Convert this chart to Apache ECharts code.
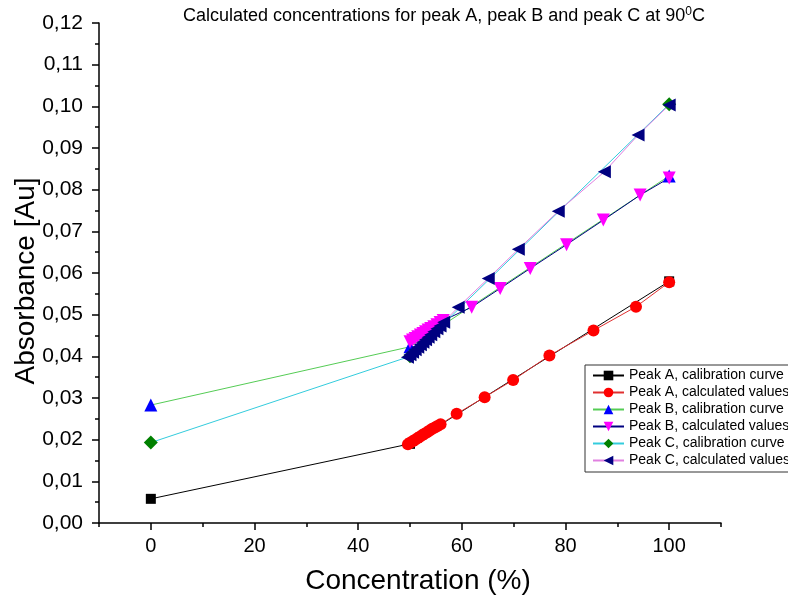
<!DOCTYPE html>
<html>
<head>
<meta charset="utf-8">
<script src="https://cdn.jsdelivr.net/npm/echarts@6/dist/echarts.min.js"></script>
<style>html,body{margin:0;padding:0;background:#fff}#c{width:788px;height:601px}</style>
</head>
<body>
<div id="c"></div>
<script>
// ---- data ----
var xLabels = [0, 20, 40, 60, 80, 100];
var xMinorTicks = [-10, 10, 30, 50, 70, 90, 110];
var peakACal = [[0, 0.0058], [50, 0.0190], [100, 0.0580]];
var peakACalc = [[49.6,0.0189],[50.1,0.0193],[50.6,0.0197],[51.0,0.0200],[51.5,0.0204],[51.9,0.0207],[52.4,0.0211],[52.8,0.0214],[53.3,0.0218],[53.8,0.0222],[54.3,0.0226],[54.8,0.0229],[55.3,0.0233],[55.9,0.0237],[59.0,0.0262],[64.4,0.0302],[69.9,0.0343],[76.9,0.0402],[85.4,0.0462],[93.6,0.0519],[100,0.0578]];
var peakBCal = [[0, 0.0283], [50, 0.0423], [100, 0.0833]];
var peakBCalc = [[50.0,0.0435],[50.5,0.0439],[51.0,0.0443],[51.5,0.0447],[52.0,0.0451],[52.5,0.0455],[53.0,0.0459],[53.5,0.0463],[54.0,0.0467],[54.6,0.0471],[55.2,0.0476],[55.8,0.0481],[56.4,0.0486],[61.9,0.0518],[67.4,0.0563],[73.2,0.0611],[80.2,0.0668],[87.3,0.0727],[94.4,0.0787],[100,0.0828]];
var peakCCal = [[0, 0.0193], [50, 0.0400], [100, 0.1005]];
var peakCCalc = [[49.5,0.0398],[50.0,0.0404],[50.5,0.0410],[51.0,0.0416],[51.5,0.0422],[52.0,0.0428],[52.5,0.0434],[53.0,0.0440],[53.5,0.0446],[54.0,0.0452],[54.6,0.0459],[55.2,0.0466],[55.8,0.0473],[56.5,0.0482],[59.3,0.0518],[65.1,0.0587],[70.9,0.0657],[78.6,0.0748],[87.5,0.0843],[94.0,0.0931],[100,0.1003]];
var seriesNames = ['Peak A, calibration curve','Peak A, calculated values','Peak B, calibration curve','Peak B, calculated values','Peak C, calibration curve','Peak C, calculated values'];

var FONT = 'Liberation Sans, Arial, sans-serif';
var chart = echarts.init(document.getElementById('c'), null, {renderer: 'canvas'});

function mk(name, data, lineColor, symbol, symColor, size, rot) {
  return {
    name: name, type: 'line', data: data, symbol: symbol, symbolSize: size,
    symbolRotate: rot || 0, showSymbol: true, animation: false,
    lineStyle: {color: lineColor, width: 1},
    itemStyle: {color: symColor, borderWidth: 0},
    emphasis: {disabled: true}
  };
}

var option = {
  backgroundColor: '#fff',
  animation: false,
  title: {
    text: '{a|Calculated concentrations for peak A, peak B and peak C at 90}{s|0}{a|C}',
    left: 178, top: 1,
    textStyle: {
      fontWeight: 'normal',
      rich: {
        a: {fontFamily: FONT, fontSize: 18, fontWeight: 'normal', color: '#000'},
        s: {fontFamily: FONT, fontSize: 12, fontWeight: 'normal', color: '#000', padding: [0, 0, 9, 0]}
      }
    }
  },
  grid: {left: 99, right: 67, top: 23, bottom: 78, containLabel: false, outerBoundsMode: 'none'},
  legend: {
    orient: 'vertical', left: 585, top: 365,
    data: seriesNames,
    itemWidth: 31, itemHeight: 12, itemGap: 2,
    padding: [3, 6, 4, 7],
    borderColor: '#333', borderWidth: 1, backgroundColor: '#fff',
    textStyle: {fontFamily: FONT, fontSize: 14, color: '#000', lineHeight: 15, padding: [0, 0, 0, 0]}
  },
  xAxis: [{
    type: 'value', min: -10, max: 110, interval: 10,
    name: 'Concentration (%)', nameLocation: 'middle', nameGap: 44, nameMoveOverlap: false,
    nameTextStyle: {fontFamily: FONT, fontSize: 28, color: '#000', padding: [0, 0, 0, 16]},
    axisLine: {onZero: false, lineStyle: {color: '#000', width: 1.5}},
    axisTick: {customValues: xLabels, length: 7, lineStyle: {color: '#000', width: 1.5}},
    axisLabel: {customValues: xLabels, fontFamily: FONT, fontSize: 20, color: '#000', margin: 13},
    splitLine: {show: false}
  }, {
    type: 'value', min: -10, max: 110, interval: 10, position: 'bottom',
    axisLine: {show: false, onZero: false},
    axisTick: {customValues: xMinorTicks, length: 4, lineStyle: {color: '#000', width: 1.5}},
    axisLabel: {show: false},
    splitLine: {show: false}
  }],
  yAxis: {
    type: 'value', min: 0, max: 0.12, interval: 0.01,
    name: 'Absorbance [Au]', nameLocation: 'middle', nameGap: 59, nameMoveOverlap: false,
    nameTextStyle: {fontFamily: FONT, fontSize: 28, color: '#000', padding: [0, 16, 0, 0]},
    axisLine: {onZero: false, lineStyle: {color: '#000', width: 1.5}},
    axisTick: {length: 7, lineStyle: {color: '#000', width: 1.5}},
    minorTick: {show: true, splitNumber: 2, length: 4, lineStyle: {color: '#000', width: 1.5}},
    axisLabel: {fontFamily: FONT, fontSize: 21, color: '#000', margin: 16,
      formatter: function (v) { return v.toFixed(2).replace('.', ','); }},
    splitLine: {show: false}
  },
  series: [
    mk(seriesNames[0], peakACal, '#000000', 'rect', '#000000', 10),
    mk(seriesNames[1], peakACalc, '#e03030', 'circle', '#ff0000', 12),
    mk(seriesNames[2], peakBCal, '#55cc55', 'triangle', '#0000ff', 13),
    mk(seriesNames[3], peakBCalc, '#000080', 'triangle', '#ff00ff', 13, 180),
    mk(seriesNames[4], peakCCal, '#33ccdd', 'diamond', '#008000', 14),
    mk(seriesNames[5], peakCCalc, '#e080e0', 'triangle', '#000080', 13, 90)
  ]
};
chart.setOption(option);
</script>
</body>
</html>
